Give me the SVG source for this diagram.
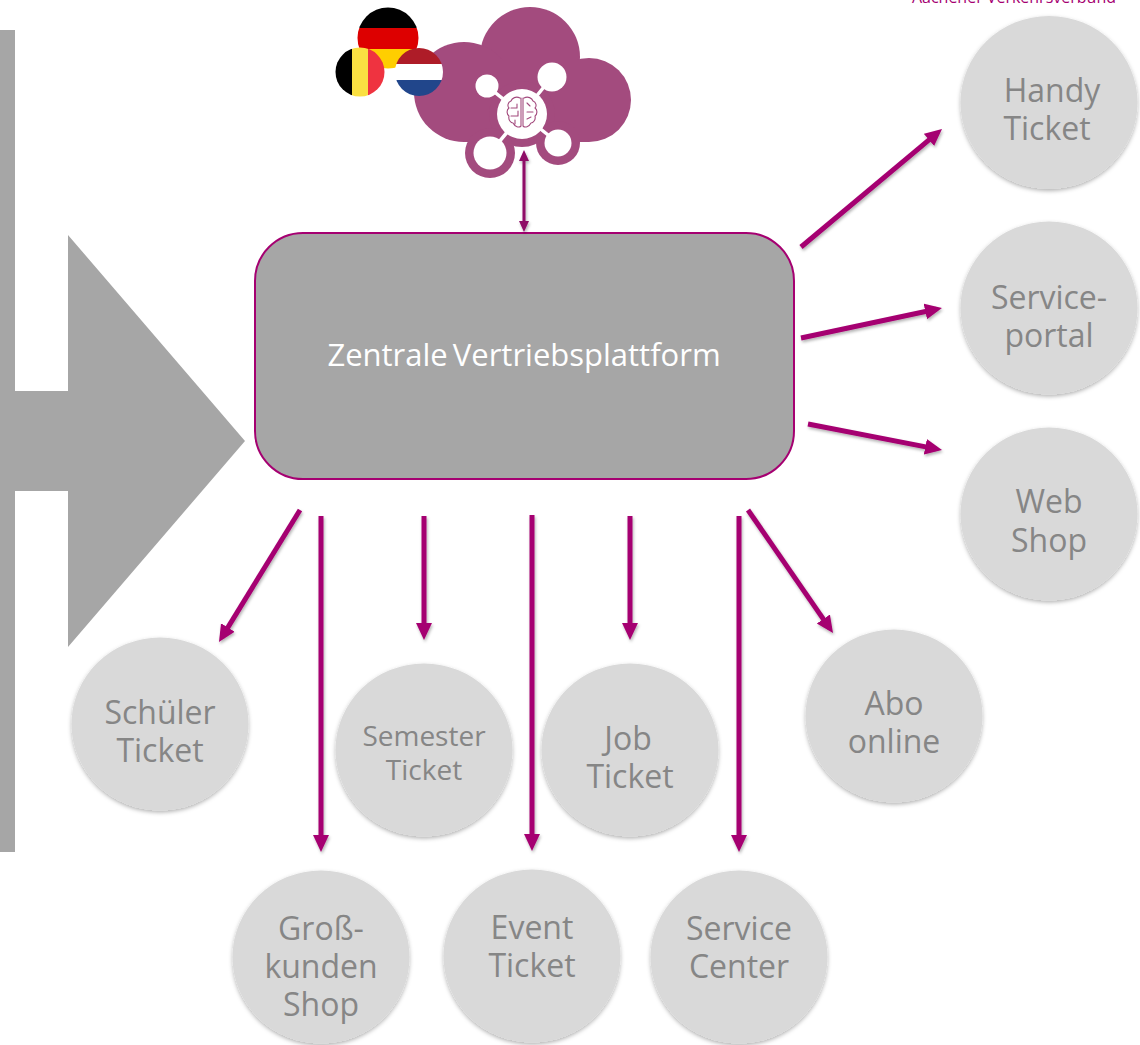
<svg xmlns="http://www.w3.org/2000/svg" width="1140" height="1045" viewBox="0 0 1140 1045">
<style>
.t{font-family:"Open Sans","Noto Sans","Liberation Sans",sans-serif;text-anchor:middle;fill:#868686;font-size:32px}
.s{font-size:28px}
.c{fill:#d9d9d9;filter:url(#sh)}
.a{fill:none;stroke:#a50071;stroke-width:5;marker-end:url(#h)}
.r{fill:#a34b7e}
.w{fill:#fff}
.b{fill:none;stroke:#a34b7e;stroke-width:1.1;stroke-linecap:round;stroke-linejoin:round}
</style>
<defs>
<filter id="sh" x="-20%" y="-20%" width="140%" height="140%"><feDropShadow dx="0" dy="2" stdDeviation="2" flood-color="#000" flood-opacity=".3"/></filter>
<filter id="ls" x="-20%" y="-20%" width="140%" height="140%"><feDropShadow dx="1" dy="2" stdDeviation="1.5" flood-color="#000" flood-opacity=".3"/></filter>
<marker id="h" markerUnits="userSpaceOnUse" markerWidth="18" markerHeight="18" refX="11" refY="8.5" orient="auto"><path d="M0 0.5L17 8.5L0 16.5Z" fill="#a50071"/></marker>
<marker id="h2" markerUnits="userSpaceOnUse" markerWidth="12" markerHeight="12" refX="6" refY="5.5" orient="auto-start-reverse"><path d="M0 0.5L11 5.5L0 10.5Z" fill="#8e0a66"/></marker>
<clipPath id="de"><circle cx="388" cy="38" r="30.5"/></clipPath>
<clipPath id="be"><circle cx="360" cy="72" r="24.5"/></clipPath>
<clipPath id="nl"><circle cx="419" cy="72" r="24"/></clipPath>
</defs>
<g id="left-arrow" fill="#a6a6a6"><rect x="0" y="30" width="15" height="822"/><path d="M0 391H68V235L245 441L68 647V491H0Z"/></g>
<text x="1116" y="3" class="t" style="text-anchor:end;fill:#a50071;font-size:16px">Aachener Verkehrsverbund</text>
<g id="cloud">
<circle class="r" cx="530" cy="57" r="50"/><circle class="r" cx="464" cy="92" r="50"/><circle class="r" cx="589" cy="100" r="42"/>
<rect class="r" x="464" y="60" width="125" height="82"/>
<circle class="r" cx="522" cy="114" r="33"/>
<circle class="r" cx="490" cy="153" r="25"/><circle class="r" cx="558" cy="143" r="22"/>
<path d="M522 114L487 86M522 114L552 77M522 114L490 153M522 114L558 143" stroke="#fff" stroke-width="3.5"/>
<circle class="w" cx="522" cy="114" r="25"/><circle class="w" cx="487" cy="86" r="11.5"/><circle class="w" cx="552" cy="77" r="14.5"/><circle class="w" cx="490" cy="153" r="16.5"/><circle class="w" cx="558" cy="143" r="13.5"/>
<path class="b" d="M520 98C516 96 512 98 511 101C508 102 507 106 509 108C506 110 507 115 509 116C508 120 511 123 513 123C515 127 519 128 521 126V98M524 98C528 96 532 98 533 101C536 102 537 106 535 108C538 110 537 115 535 116C536 120 533 123 531 123C529 127 525 128 523 126V98M511 108H517V104M511 116H518V111M527 103L530 106M527 112L533 112M527 119L531 117M515 120V124"/>
</g>
<g id="flags">
<g clip-path="url(#de)"><rect x="355" y="7" width="66" height="21" fill="#000"/><rect x="355" y="28" width="66" height="21" fill="#dd0000"/><rect x="355" y="49" width="66" height="20" fill="#ffce00"/></g>
<g clip-path="url(#be)"><rect x="335" y="47" width="17" height="50" fill="#000"/><rect x="352" y="47" width="16" height="50" fill="#fae042"/><rect x="368" y="47" width="18" height="50" fill="#ef3340"/></g>
<g clip-path="url(#nl)"><rect x="395" y="48" width="48" height="16" fill="#ae1c28"/><rect x="395" y="64" width="48" height="16" fill="#fff"/><rect x="395" y="80" width="48" height="16" fill="#21468b"/></g>
</g>
<g id="platform"><rect x="255" y="233" width="539" height="246" rx="48" fill="#a6a6a6" stroke="#a50071" stroke-width="2"/><text x="524" y="366" class="t" style="fill:#fff;font-size:31px;word-spacing:-3px">Zentrale Vertriebsplattform</text></g>
<g id="connectors" filter="url(#ls)">
<path d="M524 155V227" fill="none" stroke="#8e0a66" stroke-width="3" marker-start="url(#h2)" marker-end="url(#h2)"/>
<path class="a" d="M801 247L937.4 132.8"/>
<path class="a" d="M801 338L936.1 309.2"/>
<path class="a" d="M808 424L936.1 448.9"/>
<path class="a" d="M300 510L222.1 636.9"/>
<path class="a" d="M321 516V846"/>
<path class="a" d="M424 516V634"/>
<path class="a" d="M532 515V845"/>
<path class="a" d="M630 516V634"/>
<path class="a" d="M739 516V846"/>
<path class="a" d="M748 510L829.6 628.1"/>
</g>
<g id="handy"><ellipse class="c" cx="1049" cy="102.5" rx="88.5" ry="86.5"/><text class="t" x="1052" y="102">Handy</text><text class="t" x="1047" y="140">Ticket</text></g>
<g id="serviceportal"><ellipse class="c" cx="1049" cy="308" rx="88.5" ry="86.5"/><text class="t" x="1049" y="309">Service-</text><text class="t" x="1049" y="347">portal</text></g>
<g id="webshop"><ellipse class="c" cx="1049" cy="514" rx="88.5" ry="86.5"/><text class="t" x="1049" y="513">Web</text><text class="t" x="1049" y="552">Shop</text></g>
<g id="schueler"><ellipse class="c" cx="160" cy="724" rx="88.5" ry="86.5"/><text class="t" x="160" y="724">Schüler</text><text class="t" x="160" y="762">Ticket</text></g>
<g id="semester"><ellipse class="c" cx="424" cy="750" rx="88.5" ry="86.5"/><text class="t s" x="424" y="746">Semester</text><text class="t s" x="424" y="780">Ticket</text></g>
<g id="job"><ellipse class="c" cx="630" cy="750" rx="88.5" ry="86.5"/><text class="t" x="628" y="750">Job</text><text class="t" x="630" y="788">Ticket</text></g>
<g id="abo"><ellipse class="c" cx="894" cy="716" rx="88.5" ry="86.5"/><text class="t" x="894" y="715">Abo</text><text class="t" x="894" y="753">online</text></g>
<g id="gross"><ellipse class="c" cx="321" cy="957" rx="88.5" ry="86.5"/><text class="t" x="321" y="940">Groß-</text><text class="t" x="321" y="978">kunden</text><text class="t" x="321" y="1016">Shop</text></g>
<g id="event"><ellipse class="c" cx="532" cy="956" rx="88.5" ry="86.5"/><text class="t" x="532" y="939">Event</text><text class="t" x="532" y="977">Ticket</text></g>
<g id="servicecenter"><ellipse class="c" cx="739" cy="957" rx="88.5" ry="86.5"/><text class="t" x="739" y="940">Service</text><text class="t" x="739" y="978">Center</text></g>
</svg>
